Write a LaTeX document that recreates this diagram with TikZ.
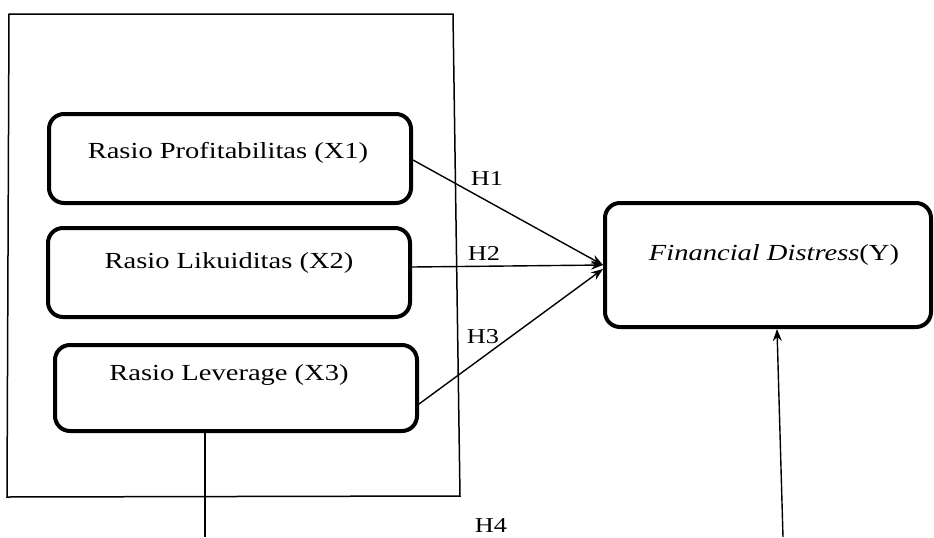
\documentclass[tikz,border=0pt]{standalone}
\usepackage{fontspec}
\newfontfamily\wf[FakeStretch=1.24]{Liberation Serif}
\usetikzlibrary{arrows.meta}
\begin{document}
\begin{tikzpicture}[x=0.5pt,y=-0.5pt,
  box/.style={draw, line width=2pt, rounded corners=7.5pt, inner sep=0pt},
  txt/.style={font=\wf\fontsize{11.5}{13}\selectfont, inner sep=0pt},
  hlbl/.style={font=\wf\fontsize{10.6}{12}\selectfont, inner sep=0pt},
  conn/.style={line width=0.7pt},
  arr/.style={line width=0.7pt, -{Stealth[length=6pt,width=4.5pt]}},
  frame/.style={line width=0.75pt}]
\useasboundingbox (0,0) rectangle (934,537);
% outer frame
\draw[frame] (9,14) -- (453,14) -- (460,496) -- (7,497) -- cycle;
% boxes
\node[box, minimum width=181pt, minimum height=44.5pt] (x1) at (230,158.5) {};
\node[box, minimum width=181pt, minimum height=44.5pt] (x2) at (229,272.5) {};
\node[box, minimum width=181pt, minimum height=43pt] (x3) at (236,388) {};
\node[box, minimum width=163pt, minimum height=62pt] (y) at (768,265) {};
% texts
\node[txt] (x1t) at (228,153) {Rasio Profitabilitas (X1)};
\node[txt] (x2t) at (229,263) {Rasio Likuiditas (X2)};
\node[txt] (x3t) at (229,375) {Rasio Leverage (X3)};
\node[txt] (yt) at (774,255) {\itshape Financial Distress\upshape(Y)};
% connectors
\draw[arr] ([yshift=-0.75pt]x1.east) -- (y.west);
\draw[arr] ([yshift=2.75pt]x2.east) -- (y.west);
\draw[arr] ([yshift=-8pt]x3.east) -- ([yshift=-2pt]y.west);
\coordinate (b1) at (205,537);
\coordinate (b2) at (783,537);
\draw[conn] ([xshift=-15.5pt]x3.south) -- (b1);
\draw[arr] (b2) -- ([xshift=4.5pt]y.south);
% labels
\node[hlbl] (h1) at (487,178) {H1};
\node[hlbl] (h2) at (484,253) {H2};
\node[hlbl] (h3) at (483,337) {H3};
\node[hlbl] (h4) at (491,526) {H4};
\end{tikzpicture}
\end{document}
